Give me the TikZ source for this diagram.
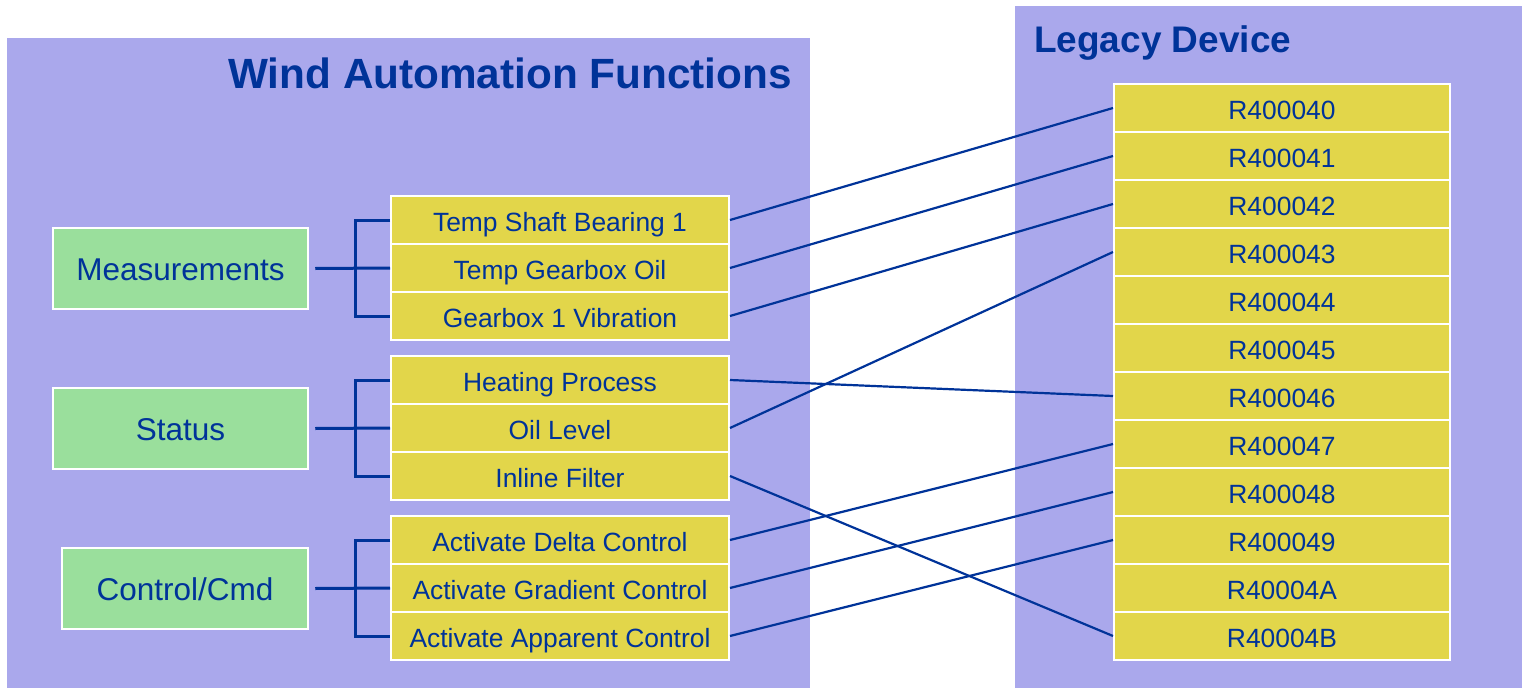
\documentclass[tikz,border=0pt]{standalone}
\usepackage{fontspec}
\setmainfont{Liberation Sans}
\definecolor{panel}{HTML}{AAA8EC}
\definecolor{cell}{HTML}{E2D64A}
\definecolor{group}{HTML}{9ADF9C}
\definecolor{ink}{HTML}{003399}
\begin{document}
\begin{tikzpicture}[x=1pt,y=-1pt,
  itemcell/.style={draw=white,line width=2pt,fill=cell,inner sep=0pt,
    minimum width=338pt,minimum height=48pt,text=ink,
    text height=22.6pt,text depth=0pt,
    font=\fontsize{26.4}{30}\selectfont},
  regcell/.style={itemcell,minimum width=336pt},
  groupbox/.style={draw=white,line width=2.5pt,fill=group,inner sep=0pt,
    minimum height=81pt,text=ink,text height=24.4pt,text depth=0pt,
    font=\fontsize{31.5}{36}\selectfont},
  link/.style={draw=ink,line width=2.2pt},
  brace/.style={draw=ink,line width=3pt}]
\useasboundingbox (0,0) rectangle (1524,688);

% background panels
\fill[panel] (7,38) rectangle (810,688);
\fill[panel] (1015,6) rectangle (1522,688);

% panel titles
\node[anchor=base east,inner sep=0pt,text=ink,font=\bfseries\fontsize{42.3}{48}\selectfont]
  (wtitle) at (792,88) {Wind Automation Functions};
\node[anchor=base west,inner sep=0pt,text=ink,font=\bfseries\fontsize{37}{42}\selectfont]
  (ltitle) at (1034,52) {Legacy Device};

% function groups
\node[groupbox,minimum width=255pt] (meas) at (180.5,268.5) {Measurements};
\node[groupbox,minimum width=255pt] (stat) at (180.5,428.5) {Status};
\node[groupbox,minimum width=246pt] (ctrl) at (185,588.5) {Control/Cmd};

% function items
\node[itemcell] (tsb) at (560,220) {Temp Shaft Bearing 1};
\node[itemcell] (tgo) at (560,268) {Temp Gearbox Oil};
\node[itemcell] (gvb) at (560,316) {Gearbox 1 Vibration};
\node[itemcell] (hp)  at (560,380) {Heating Process};
\node[itemcell] (ol)  at (560,428) {Oil Level};
\node[itemcell] (inf) at (560,476) {Inline Filter};
\node[itemcell] (adc) at (560,540) {Activate Delta Control};
\node[itemcell] (agc) at (560,588) {Activate Gradient Control};
\node[itemcell] (aac) at (560,636) {Activate Apparent Control};

% device registers
\foreach \name [count=\k from 0] in {R400040,R400041,R400042,R400043,R400044,R400045,
    R400046,R400047,R400048,R400049,R40004A,R40004B}
  \node[regcell] (\name) at (1282,108+48*\k) {\name};

% brackets from each group to its items
\foreach \g/\a/\b/\c in {meas/tsb/tgo/gvb, stat/hp/ol/inf, ctrl/adc/agc/aac}{
  \draw[brace] (\a.west) -- ++(-35,0) |- (\c.west);
  \draw[brace] ([xshift=6pt]\g.east) -- (\b.west);
}

% item to register mapping
\draw[link] (tsb.east) -- (R400040.west);
\draw[link] (tgo.east) -- (R400041.west);
\draw[link] (gvb.east) -- (R400042.west);
\draw[link] (hp.east)  -- (R400046.west);
\draw[link] (ol.east)  -- (R400043.west);
\draw[link] (inf.east) -- (R40004B.west);
\draw[link] (adc.east) -- (R400047.west);
\draw[link] (agc.east) -- (R400048.west);
\draw[link] (aac.east) -- (R400049.west);
\end{tikzpicture}
\end{document}
